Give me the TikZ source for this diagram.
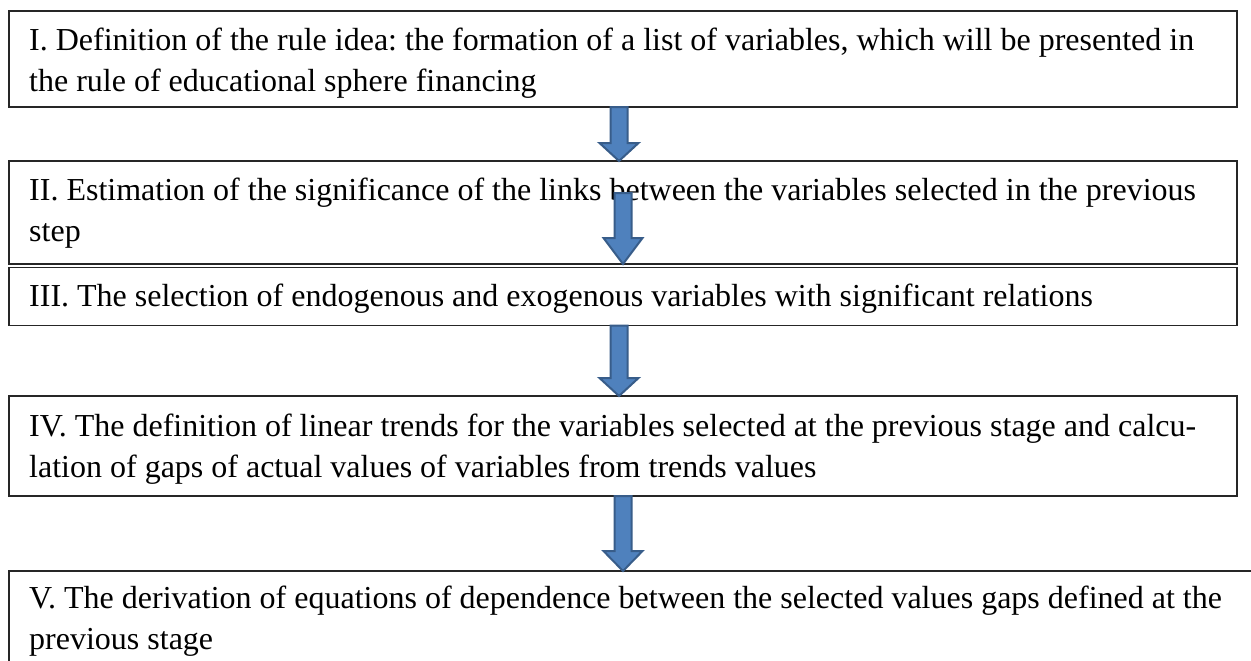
\documentclass[tikz,border=0pt]{standalone}
\usepackage{fontspec}
\setmainfont{Liberation Serif}
\usetikzlibrary{calc}
\definecolor{arrfill}{HTML}{4F81BD}
\definecolor{arrline}{HTML}{385D8A}
\tikzset{
  box/.style={draw=black!85, line width=1.3pt, rectangle, inner sep=0pt, outer sep=0pt, anchor=north west},
  txt/.style={font=\fontsize{32}{41}\selectfont\frenchspacing, align=left, inner sep=0pt, anchor=base west, text=black},
  barrow/.style={fill=arrfill, draw=arrline, line width=2pt, line join=miter},
}
\newcommand\blockarr[3]{%
  \path[barrow] let \p1=(#1), \p2=(#2) in
    (\x1-8.5pt,\y1) -- (\x1+8.5pt,\y1) -- (\x1+8.5pt,\y2+#3) -- (\x1+19.5pt,\y2+#3)
    -- (\x1,\y2) -- (\x1-19.5pt,\y2+#3) -- (\x1-8.5pt,\y2+#3) -- cycle;}
\begin{document}
\begin{tikzpicture}[x=1pt,y=-1pt]
\clip (0,0) rectangle (1251,661);
\fill[white] (0,0) rectangle (1251,661);
% boxes
\node[box, minimum width=1228pt, minimum height=96pt] (b1) at (9,11) {};
\node[box, minimum width=1228pt, minimum height=103pt] (b2) at (9,161) {};
\node[box, minimum width=1228pt, minimum height=58pt] (b3) at (9,267.5) {};
\node[box, minimum width=1228pt, minimum height=100pt] (b4) at (9,396) {};
\node[box, minimum width=1270pt, minimum height=130pt] (b5) at (9,571) {};
% texts (base anchor = last line)
\node[txt] (t1) at ([shift={(20pt,-81pt)}]b1.north west) {I. Definition of the rule idea: the formation of a list of variables, which will be presented in\\the rule of educational sphere financing};
\node[txt] (t2) at ([shift={(20pt,-80pt)}]b2.north west) {II. Estimation of the significance of the links between the variables selected in the previous\\step};
\node[txt] (t3) at ([shift={(20pt,-38.5pt)}]b3.north west) {III. The selection of endogenous and exogenous variables with significant relations};
\node[txt] (t4) at ([shift={(20pt,-81pt)}]b4.north west) {IV. The definition of linear trends for the variables selected at the previous stage and calcu-\\lation of gaps of actual values of variables from trends values};
\node[txt] (t5) at ([shift={(20pt,-78pt)}]b5.north west) {V. The derivation of equations of dependence between the selected values gaps defined at the\\previous stage};
% arrow end points
\coordinate (a1s) at ([xshift=-4pt]b1.south);
\coordinate (a1e) at ([xshift=-4pt]b2.north);
\coordinate (a2s) at ([yshift=-32pt]b2.north);
\coordinate (a2e) at (b2.south);
\coordinate (a3s) at ([xshift=-4pt]b3.south);
\coordinate (a3e) at ([xshift=-4pt]b4.north);
\coordinate (a4s) at (b4.south);
\coordinate (a4e) at (b5.north -| b4.south);
\blockarr{a1s}{a1e}{18pt}
\blockarr{a2s}{a2e}{26pt}
\blockarr{a3s}{a3e}{18pt}
\blockarr{a4s}{a4e}{20pt}
\end{tikzpicture}
\end{document}
